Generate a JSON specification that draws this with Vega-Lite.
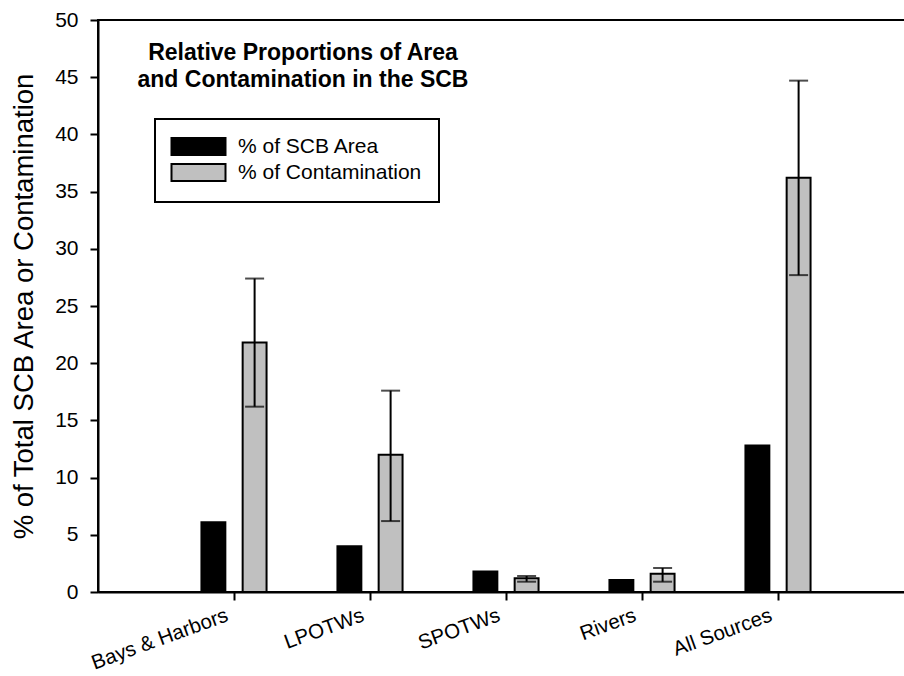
{
  "$schema": "https://vega.github.io/schema/vega-lite/v6.json",
  "width": 816,
  "height": 572,
  "autosize": "none",
  "padding": {"left": 98, "top": 20, "right": 0, "bottom": 84},
  "background": "white",
  "config": {
    "font": "Liberation Sans",
    "view": {"stroke": "black", "strokeWidth": 2},
    "axis": {"grid": false, "domainColor": "black", "domainWidth": 2, "tickColor": "black", "tickWidth": 2, "tickSize": 8, "labelColor": "black", "titleColor": "black", "labelFont": "Liberation Sans", "titleFont": "Liberation Sans"}
  },
  "title": {
    "text": ["Relative Proportions of Area", "and Contamination in the SCB"],
    "orient": "top",
    "anchor": "start",
    "frame": "group",
    "align": "center",
    "baseline": "top",
    "dx": 205,
    "dy": 87,
    "fontSize": 23,
    "fontWeight": "bold",
    "font": "Liberation Sans",
    "color": "black",
    "lineHeight": 27
  },
  "data": {
    "values": [
      {"source": "Bays & Harbors", "series": "% of SCB Area", "value": 6.1},
      {"source": "Bays & Harbors", "series": "% of Contamination", "value": 21.8, "lo": 16.2, "hi": 27.4},
      {"source": "LPOTWs", "series": "% of SCB Area", "value": 4.0},
      {"source": "LPOTWs", "series": "% of Contamination", "value": 12.0, "lo": 6.2, "hi": 17.6},
      {"source": "SPOTWs", "series": "% of SCB Area", "value": 1.8},
      {"source": "SPOTWs", "series": "% of Contamination", "value": 1.2, "lo": 0.9, "hi": 1.4},
      {"source": "Rivers", "series": "% of SCB Area", "value": 1.05},
      {"source": "Rivers", "series": "% of Contamination", "value": 1.6, "lo": 0.9, "hi": 2.1},
      {"source": "All Sources", "series": "% of SCB Area", "value": 12.8},
      {"source": "All Sources", "series": "% of Contamination", "value": 36.2, "lo": 27.7, "hi": 44.7}
    ]
  },
  "encoding": {
    "x": {
      "field": "source", "type": "nominal", "sort": null,
      "scale": {"paddingInner": 0, "paddingOuter": 0.5},
      "axis": {"title": null, "labelAngle": -20, "labelAlign": "right", "labelBaseline": "top", "labelFontSize": 20.5, "labelPadding": 5, "labelOffset": -10, "labelLimit": 400}
    },
    "xOffset": {
      "field": "series", "type": "nominal", "sort": ["% of SCB Area", "% of Contamination"],
      "scale": {"paddingInner": 0.42, "paddingOuter": 0.86}
    }
  },
  "layer": [
    {
      "mark": {"type": "bar", "stroke": "black", "strokeWidth": 2},
      "encoding": {
        "y": {
          "field": "value", "type": "quantitative",
          "scale": {"domain": [0, 50], "nice": false},
          "axis": {"title": "% of Total SCB Area or Contamination", "titleFontSize": 27.5, "titleFontWeight": "normal", "titlePadding": 16, "values": [0,5,10,15,20,25,30,35,40,45,50], "labelFontSize": 21, "labelPadding": 12}
        },
        "fill": {
          "field": "series", "type": "nominal",
          "scale": {"domain": ["% of SCB Area", "% of Contamination"], "range": ["#000000", "#c0c0c0"]},
          "legend": {
            "title": null,
            "orient": "none",
            "legendX": 57,
            "legendY": 99,
            "strokeColor": "black",
            "padding": 17,
            "symbolType": "M-4,-1.25H4V1.25H-4Z",
            "symbolSize": 182.25,
            "symbolStrokeColor": "black",
            "symbolStrokeWidth": 2,
            "symbolOffset": 16,
            "labelOffset": 29,
            "labelFontSize": 21,
            "labelLimit": 400,
            "labelFont": "Liberation Sans",
            "labelColor": "black",
            "rowPadding": 1,
            "encode": {"legend": {"update": {"strokeWidth": {"value": 2}}}}
          }
        }
      }
    },
    {
      "mark": {"type": "rule", "stroke": "black", "strokeWidth": 2},
      "encoding": {
        "y": {"field": "lo", "type": "quantitative"},
        "y2": {"field": "hi"}
      }
    },
    {
      "mark": {"type": "tick", "color": "black", "thickness": 2, "size": 19, "orient": "horizontal"},
      "encoding": {"y": {"field": "lo", "type": "quantitative"}}
    },
    {
      "mark": {"type": "tick", "color": "black", "thickness": 2, "size": 19, "orient": "horizontal"},
      "encoding": {"y": {"field": "hi", "type": "quantitative"}}
    }
  ]
}
